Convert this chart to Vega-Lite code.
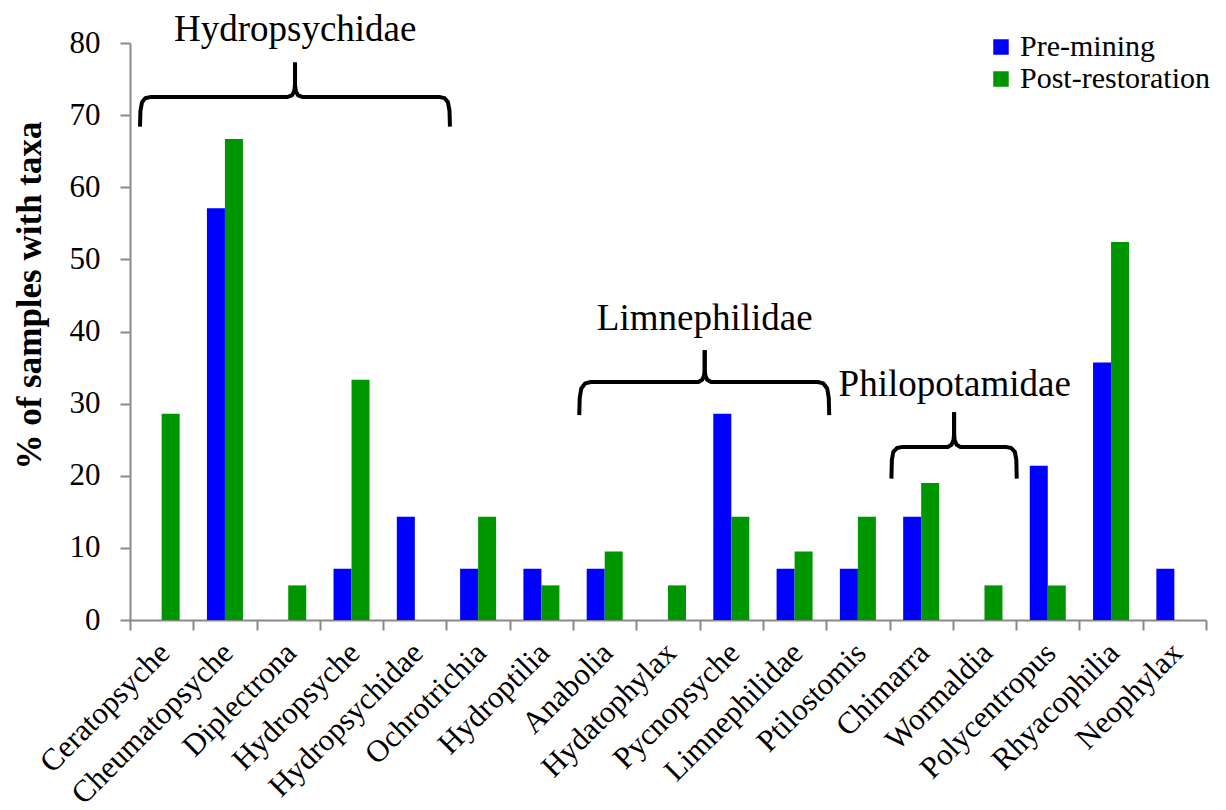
{
  "$schema": "https://vega.github.io/schema/vega-lite/v6.json",
  "width": 1076,
  "height": 577,
  "autosize": {"type": "none"},
  "padding": {"left": 130, "top": 43, "right": 20, "bottom": 190},
  "background": "white",
  "config": {
    "font": "Liberation Serif",
    "view": {"stroke": null}
  },
  "datasets": {
    "bars": [
      {"taxon": "Ceratopsyche", "period": "Pre-mining", "pct": 0},
      {"taxon": "Ceratopsyche", "period": "Post-restoration", "pct": 28.6},
      {"taxon": "Cheumatopsyche", "period": "Pre-mining", "pct": 57.1},
      {"taxon": "Cheumatopsyche", "period": "Post-restoration", "pct": 66.7},
      {"taxon": "Diplectrona", "period": "Pre-mining", "pct": 0},
      {"taxon": "Diplectrona", "period": "Post-restoration", "pct": 4.8},
      {"taxon": "Hydropsyche", "period": "Pre-mining", "pct": 7.1},
      {"taxon": "Hydropsyche", "period": "Post-restoration", "pct": 33.3},
      {"taxon": "Hydropsychidae", "period": "Pre-mining", "pct": 14.3},
      {"taxon": "Hydropsychidae", "period": "Post-restoration", "pct": 0},
      {"taxon": "Ochrotrichia", "period": "Pre-mining", "pct": 7.1},
      {"taxon": "Ochrotrichia", "period": "Post-restoration", "pct": 14.3},
      {"taxon": "Hydroptilia", "period": "Pre-mining", "pct": 7.1},
      {"taxon": "Hydroptilia", "period": "Post-restoration", "pct": 4.8},
      {"taxon": "Anabolia", "period": "Pre-mining", "pct": 7.1},
      {"taxon": "Anabolia", "period": "Post-restoration", "pct": 9.5},
      {"taxon": "Hydatophylax", "period": "Pre-mining", "pct": 0},
      {"taxon": "Hydatophylax", "period": "Post-restoration", "pct": 4.8},
      {"taxon": "Pycnopsyche", "period": "Pre-mining", "pct": 28.6},
      {"taxon": "Pycnopsyche", "period": "Post-restoration", "pct": 14.3},
      {"taxon": "Limnephilidae", "period": "Pre-mining", "pct": 7.1},
      {"taxon": "Limnephilidae", "period": "Post-restoration", "pct": 9.5},
      {"taxon": "Ptilostomis", "period": "Pre-mining", "pct": 7.1},
      {"taxon": "Ptilostomis", "period": "Post-restoration", "pct": 14.3},
      {"taxon": "Chimarra", "period": "Pre-mining", "pct": 14.3},
      {"taxon": "Chimarra", "period": "Post-restoration", "pct": 19.0},
      {"taxon": "Wormaldia", "period": "Pre-mining", "pct": 0},
      {"taxon": "Wormaldia", "period": "Post-restoration", "pct": 4.8},
      {"taxon": "Polycentropus", "period": "Pre-mining", "pct": 21.4},
      {"taxon": "Polycentropus", "period": "Post-restoration", "pct": 4.8},
      {"taxon": "Rhyacophilia", "period": "Pre-mining", "pct": 35.7},
      {"taxon": "Rhyacophilia", "period": "Post-restoration", "pct": 52.4},
      {"taxon": "Neophylax", "period": "Pre-mining", "pct": 7.1},
      {"taxon": "Neophylax", "period": "Post-restoration", "pct": 0}
    ],
    "braces": [
      {"seg": "H1", "ord": 1, "bx": 0.158, "by": 68.4},
      {"seg": "H1", "ord": 2, "bx": 0.165, "by": 70.6},
      {"seg": "H1", "ord": 3, "bx": 0.19, "by": 71.8},
      {"seg": "H1", "ord": 4, "bx": 0.24, "by": 72.35},
      {"seg": "H1", "ord": 5, "bx": 0.316, "by": 72.5},
      {"seg": "H1", "ord": 6, "bx": 2.48, "by": 72.5},
      {"seg": "H1", "ord": 7, "bx": 2.56, "by": 72.75},
      {"seg": "H1", "ord": 8, "bx": 2.595, "by": 73.3},
      {"seg": "H1", "ord": 9, "bx": 2.607, "by": 74.2},
      {"seg": "H1", "ord": 10, "bx": 2.607, "by": 77.3},
      {"seg": "H2", "ord": 1, "bx": 5.055, "by": 68.4},
      {"seg": "H2", "ord": 2, "bx": 5.048, "by": 70.6},
      {"seg": "H2", "ord": 3, "bx": 5.023, "by": 71.8},
      {"seg": "H2", "ord": 4, "bx": 4.97, "by": 72.35},
      {"seg": "H2", "ord": 5, "bx": 4.9, "by": 72.5},
      {"seg": "H2", "ord": 6, "bx": 2.733, "by": 72.5},
      {"seg": "H2", "ord": 7, "bx": 2.655, "by": 72.75},
      {"seg": "H2", "ord": 8, "bx": 2.62, "by": 73.3},
      {"seg": "H2", "ord": 9, "bx": 2.607, "by": 74.2},
      {"seg": "H2", "ord": 10, "bx": 2.607, "by": 77.3},
      {"seg": "L1", "ord": 1, "bx": 7.098, "by": 28.4},
      {"seg": "L1", "ord": 2, "bx": 7.105, "by": 30.8},
      {"seg": "L1", "ord": 3, "bx": 7.13, "by": 32.1},
      {"seg": "L1", "ord": 4, "bx": 7.19, "by": 32.8},
      {"seg": "L1", "ord": 5, "bx": 7.28, "by": 33.0},
      {"seg": "L1", "ord": 6, "bx": 8.98, "by": 33.0},
      {"seg": "L1", "ord": 7, "bx": 9.04, "by": 33.3},
      {"seg": "L1", "ord": 8, "bx": 9.07, "by": 33.9},
      {"seg": "L1", "ord": 9, "bx": 9.08, "by": 34.8},
      {"seg": "L1", "ord": 10, "bx": 9.08, "by": 37.4},
      {"seg": "L2", "ord": 1, "bx": 11.047, "by": 28.4},
      {"seg": "L2", "ord": 2, "bx": 11.04, "by": 30.8},
      {"seg": "L2", "ord": 3, "bx": 11.015, "by": 32.1},
      {"seg": "L2", "ord": 4, "bx": 10.955, "by": 32.8},
      {"seg": "L2", "ord": 5, "bx": 10.865, "by": 33.0},
      {"seg": "L2", "ord": 6, "bx": 9.18, "by": 33.0},
      {"seg": "L2", "ord": 7, "bx": 9.12, "by": 33.3},
      {"seg": "L2", "ord": 8, "bx": 9.09, "by": 33.9},
      {"seg": "L2", "ord": 9, "bx": 9.08, "by": 34.8},
      {"seg": "L2", "ord": 10, "bx": 9.08, "by": 37.4},
      {"seg": "P1", "ord": 1, "bx": 12.03, "by": 19.6},
      {"seg": "P1", "ord": 2, "bx": 12.037, "by": 22.2},
      {"seg": "P1", "ord": 3, "bx": 12.06, "by": 23.3},
      {"seg": "P1", "ord": 4, "bx": 12.12, "by": 23.85},
      {"seg": "P1", "ord": 5, "bx": 12.21, "by": 24.0},
      {"seg": "P1", "ord": 6, "bx": 12.92, "by": 24.0},
      {"seg": "P1", "ord": 7, "bx": 12.98, "by": 24.3},
      {"seg": "P1", "ord": 8, "bx": 13.01, "by": 24.9},
      {"seg": "P1", "ord": 9, "bx": 13.02, "by": 25.8},
      {"seg": "P1", "ord": 10, "bx": 13.02, "by": 28.8},
      {"seg": "P2", "ord": 1, "bx": 14.01, "by": 19.6},
      {"seg": "P2", "ord": 2, "bx": 14.003, "by": 22.2},
      {"seg": "P2", "ord": 3, "bx": 13.98, "by": 23.3},
      {"seg": "P2", "ord": 4, "bx": 13.92, "by": 23.85},
      {"seg": "P2", "ord": 5, "bx": 13.83, "by": 24.0},
      {"seg": "P2", "ord": 6, "bx": 13.12, "by": 24.0},
      {"seg": "P2", "ord": 7, "bx": 13.06, "by": 24.3},
      {"seg": "P2", "ord": 8, "bx": 13.03, "by": 24.9},
      {"seg": "P2", "ord": 9, "bx": 13.02, "by": 25.8},
      {"seg": "P2", "ord": 10, "bx": 13.02, "by": 28.8}
    ],
    "labels": [
      {"label": "Hydropsychidae", "tx": 2.61, "ty": 80.3},
      {"label": "Limnephilidae", "tx": 9.08, "ty": 40.2},
      {"label": "Philopotamidae", "tx": 13.03, "ty": 31.0}
    ]
  },
  "layer": [
    {
      "data": {"name": "bars"},
      "mark": {"type": "bar"},
      "encoding": {
        "x": {
          "field": "taxon", "type": "nominal", "sort": null,
          "scale": {"paddingInner": 0, "paddingOuter": 0},
          "axis": {
            "title": null,
            "labelAngle": -45, "labelAlign": "right", "labelBaseline": "middle",
            "labelFontSize": 31, "labelColor": "black", "labelFont": "Liberation Serif",
            "labelPadding": 18, "labelOffset": 3, "labelLimit": 0,
            "tickBand": "extent", "tickSize": 10, "tickWidth": 2, "tickColor": "#898989",
            "domainColor": "#898989", "domainWidth": 2, "labelOverlap": false
          }
        },
        "xOffset": {
          "field": "period", "sort": ["Pre-mining", "Post-restoration"],
          "scale": {"paddingInner": 0, "paddingOuter": 0.758}
        },
        "y": {
          "field": "pct", "type": "quantitative",
          "title": "% of samples with taxa",
          "scale": {"domain": [0, 80], "nice": false},
          "axis": {
            "values": [0, 10, 20, 30, 40, 50, 60, 70, 80],
            "grid": false,
            "labelFontSize": 31, "labelColor": "black", "labelFont": "Liberation Serif",
            "labelPadding": 20,
            "tickSize": 10, "tickWidth": 2, "tickColor": "#898989",
            "domainColor": "#898989", "domainWidth": 2,
            "titleFontSize": 35, "titleFontWeight": "bold", "titleColor": "black",
            "titleFont": "Liberation Serif", "titlePadding": 22, "titleY": 252
          }
        },
        "color": {
          "field": "period", "type": "nominal",
          "scale": {"domain": ["Pre-mining", "Post-restoration"], "range": ["#0000FF", "#009600"]},
          "legend": {
            "title": null, "orient": "none", "legendX": 856, "legendY": -11,
            "symbolType": "square", "symbolSize": 240, "symbolStrokeWidth": 0,
            "labelFontSize": 30, "labelFont": "Liberation Serif", "labelColor": "black",
            "labelOffset": 4, "rowPadding": 2, "padding": 0, "labelLimit": 0
          }
        }
      }
    },
    {
      "data": {"name": "braces"},
      "mark": {"type": "line", "stroke": "black", "strokeWidth": 4, "clip": false, "strokeJoin": "round", "strokeCap": "butt"},
      "encoding": {
        "x": {"field": "bx", "type": "quantitative", "scale": {"domain": [0, 17], "nice": false, "zero": false}, "axis": null},
        "y": {"field": "by", "type": "quantitative", "title": "% of samples with taxa", "scale": {"domain": [0, 80], "nice": false}},
        "detail": {"field": "seg"},
        "order": {"field": "ord", "type": "quantitative"}
      }
    },
    {
      "data": {"name": "labels"},
      "mark": {"type": "text", "fontSize": 37, "baseline": "alphabetic", "align": "center", "font": "Liberation Serif", "color": "black", "clip": false},
      "encoding": {
        "x": {"field": "tx", "type": "quantitative", "scale": {"domain": [0, 17], "nice": false, "zero": false}, "axis": null},
        "y": {"field": "ty", "type": "quantitative", "title": "% of samples with taxa", "scale": {"domain": [0, 80], "nice": false}},
        "text": {"field": "label"}
      }
    }
  ],
  "resolve": {"scale": {"x": "independent"}}
}
